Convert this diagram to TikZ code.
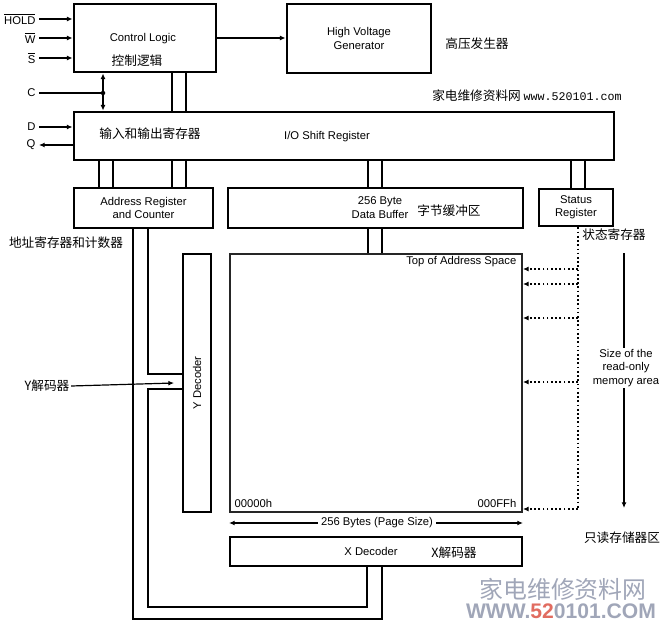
\documentclass[tikz,border=0pt]{standalone}
\usepackage{fontspec}
\setmainfont{Liberation Sans}
\newfontfamily\cjk{Noto Sans CJK SC}
\newfontfamily\urlmono{Liberation Mono}
\usetikzlibrary{arrows.meta,positioning,calc}
\definecolor{wmgray}{RGB}{160,166,184}
\definecolor{wmred}{RGB}{225,108,96}
\tikzset{
    eepbox/.style={draw, line width=2pt, align=center, font=\fontsize{8}{9.5}\selectfont, inner sep=0pt},
    eeparrow/.style={-{Latex[length=4pt,width=3.5pt]}, line width=0.85pt},
    eepboth/.style={{Latex[length=4pt,width=3.5pt]}-{Latex[length=4pt,width=3.5pt]}, line width=0.85pt},
    eepwire/.style={line width=0.95pt},
    eepdots/.style={-{Latex[length=4pt,width=3.5pt]}, dash pattern=on 1.2pt off 1.8pt},
    eepnote/.style={font=\fontsize{8}{9.5}\selectfont, align=center, inner sep=1pt},
    eepcjk/.style={font=\cjk\fontsize{9}{10}\selectfont, inner sep=1pt}
}

\begin{document}
\begin{tikzpicture}[x=0.025cm, y=-0.025cm,
        pinlabel/.style={font=\fontsize{8}{9.5}\selectfont, inner sep=0pt, outer sep=2.5pt, anchor=east},
        membox/.style={draw=black!85, line width=1.3pt}
    ]
        \useasboundingbox (0,0) rectangle (663,624);

        % blocks
        \node[eepbox, minimum width=3.55cm, minimum height=1.7cm] (ctrl) at (145,38) {};
        \node[eepnote] (ctrltxt) at (143,39) {Control Logic};
        \node[eepcjk] (ctrlcn) at (137,61) {控制逻辑};
        \node[eepbox, minimum width=3.6cm, minimum height=1.725cm] (hv) at (359,38.5) {High Voltage\\Generator};
        \node[eepcjk] (hvcn) at (477,44) {高压发生器};
        \node[eepcjk] (site) at (527,96) {家电维修资料网 {\urlmono\fontsize{8.3}{10}\selectfont www.520101.com}};

        \node[eepbox, minimum width=13.5cm, minimum height=1.2cm] (io) at (344,136) {};
        \node[eepcjk] (iocn) at (150,134) {输入和输出寄存器};
        \node[eepnote] (iotxt) at (327,137) {I/O Shift Register};

        \node[eepbox, minimum width=3.475cm, minimum height=1cm] (addr) at (143.5,208) {Address Register\\and Counter};
        \node[eepcjk] (addrcn) at (66,243) {地址寄存器和计数器};
        \node[eepbox, minimum width=7.375cm, minimum height=1cm] (buf) at (375.5,208) {};
        \node[eepnote] (buftxt) at (380,207.5) {256 Byte\\Data Buffer};
        \node[eepcjk] (bufcn) at (449,211) {字节缓冲区};
        \node[eepbox, minimum width=1.85cm, minimum height=0.925cm] (stat) at (576,207.5) {Status\\Register};
        \node[eepcjk] (statcn) at (614,235) {状态寄存器};

        \node[eepbox, minimum width=0.7cm, minimum height=6.45cm] (ydec) at (197,383) {};
        \node[eepnote, rotate=90] (ydectxt) at (197,383) {Y Decoder};
        \node[membox, minimum width=7.3cm, minimum height=6.45cm] (mem) at (376,383) {};
        \node[eepnote, anchor=east] (toptxt) at (518,262) {Top of Address Space};
        \node[eepnote, anchor=west] (lowtxt) at (233,503) {00000h};
        \node[eepnote, anchor=east] (hightxt) at (518,503) {000FFh};
        \node[eepnote, inner sep=2pt] (page) at (377,523) {256 Bytes (Page Size)};
        \node[eepbox, minimum width=7.3cm, minimum height=0.725cm] (xdec) at (376,551.5) {};
        \node[eepnote] (xdectxt) at (371,551) {X Decoder};
        \node[eepcjk] (xdeccn) at (454,553) {X解码器};

        \node[eepnote] (size) at (626,368) {Size of the\\read-only\\memory area};
        \node[eepcjk] (romcn) at (622,538) {只读存储器区};
        \node[eepcjk] (ydeccn) at (47,386) {Y解码器};

        % pins
        \node[pinlabel] (hold) at (39,19) {$\overline{\hbox{HOLD}}$};
        \node[pinlabel] (wpin) at (39,38) {$\overline{\hbox{W}}$};
        \node[pinlabel] (spin) at (39,58) {$\overline{\hbox{S}}$};
        \node[pinlabel] (cpin) at (39,93) {C};
        \node[pinlabel] (dpin) at (39,127) {D};
        \node[pinlabel] (qpin) at (39,145) {Q};
        \coordinate (cdot) at (103,93);

        \draw[eeparrow] (hold.east) -- (hold.east -| ctrl.west);
        \draw[eeparrow] (wpin.east) -- (wpin.east -| ctrl.west);
        \draw[eeparrow] (spin.east) -- (spin.east -| ctrl.west);
        \draw[eepwire] (cpin.east) -- (cdot);
        \fill (cdot) circle (1.6pt);
        \draw[eepboth] (ctrl.south -| cdot) -- (io.north -| cdot);
        \draw[eeparrow] (ctrl.east) -- (ctrl.east -| hv.west);
        \draw[eeparrow] (dpin.east) -- (dpin.east -| io.west);
        \draw[eeparrow] (qpin.east -| io.west) -- (qpin.east);

        % buses
        \foreach \x in {172,186} \draw[eepwire] (ctrl.south -| \x,0) -- (io.north -| \x,0);
        \foreach \x in {99,113,172,186} \draw[eepwire] (io.south -| \x,0) -- (addr.north -| \x,0);
        \foreach \x in {368,382} {
            \draw[eepwire] (io.south -| \x,0) -- (buf.north -| \x,0);
            \draw[eepwire] (buf.south -| \x,0) -- (mem.north -| \x,0);
        }
        \foreach \x in {571,585} \draw[eepwire] (io.south -| \x,0) -- (stat.north -| \x,0);

        \coordinate (outerbus) at (133,619);
        \coordinate (innerbus) at (148,607);
        \draw[eepwire] (addr.south -| outerbus) -- (outerbus) -- (outerbus -| 382,0) -- (xdec.south -| 382,0);
        \draw[eepwire] (addr.south -| innerbus) -- (innerbus |- 0,374) -- (ydec.west |- 0,374);
        \draw[eepwire] (ydec.west |- 0,389) -- (innerbus |- 0,389) -- (innerbus) -- (innerbus -| 367,0) -- (xdec.south -| 367,0);
        \coordinate (yhint) at (174,383);
        \draw[eeparrow] (ydeccn.east) -- (yhint);

        % read-only area
        \coordinate (roline) at (578,509);
        \draw[line width=1.2pt, dash pattern=on 1.2pt off 1.8pt] (stat.south -| roline) -- (roline);
        \foreach \y/\w in {269/1.9pt, 284/1.2pt, 318/1.9pt, 382/1.2pt, 509/1.2pt}
            \draw[eepdots, line width=\w] (roline |- 0,\y) -- (mem.east |- 0,\y);
        \coordinate (sztop) at (624,253);
        \draw[eepwire] (sztop) -- (sztop |- size.north);
        \draw[eeparrow] (size.south -| sztop) -- (sztop |- 0,508);

        \draw[eeparrow] (page.west) -- (page.west -| mem.west);
        \draw[eeparrow] (page.east) -- (page.east -| mem.east);

        % watermark
        \node[font=\cjk\fontsize{17}{19}\selectfont, text=wmgray, inner sep=0pt] (wmcn) at (563,589) {家电维修资料网};
        \node[font=\bfseries\fontsize{15}{17}\selectfont, text=wmgray, inner sep=0pt] (wmurl) at (561,611) {WWW.{\color{wmred}52}0101.COM};
    \end{tikzpicture}
\end{document}
